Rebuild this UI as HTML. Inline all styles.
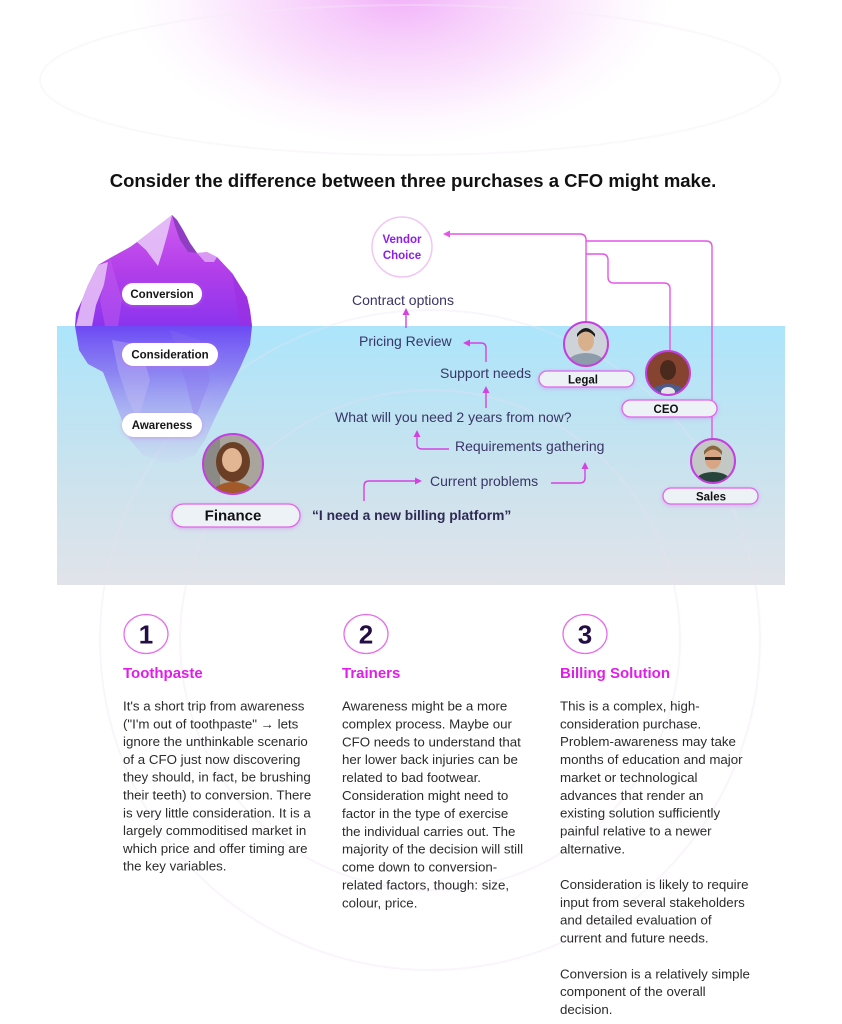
<!DOCTYPE html>
<html><head><meta charset="utf-8">
<style>
html,body{margin:0;padding:0;background:#fff;}
body{width:842px;height:1024px;position:relative;overflow:hidden;font-family:"Liberation Sans",sans-serif;}
#glow{position:absolute;left:0;top:0;width:842px;height:200px;background:radial-gradient(ellipse 270px 150px at 400px -5px,#f2b2fa 0%,#f7cffb 30%,#fbe6fd 60%,#fef7ff 82%,rgba(255,255,255,0) 100%);}
svg{position:absolute;left:0;top:0;}
</style></head>
<body>
<div id="glow"></div>
<svg width="842" height="1024" viewBox="0 0 842 1024" xmlns="http://www.w3.org/2000/svg">
<defs>
<linearGradient id="water" x1="0" y1="0" x2="0" y2="1">
<stop offset="0" stop-color="#ace5fb"/>
<stop offset="0.45" stop-color="#c4e3f0"/>
<stop offset="1" stop-color="#e1e3e9"/>
</linearGradient>
<linearGradient id="berg" x1="0" y1="0" x2="0" y2="1">
<stop offset="0" stop-color="#d15cf2"/>
<stop offset="0.5" stop-color="#b23fe9"/>
<stop offset="1" stop-color="#8b34ee"/>
</linearGradient>
<linearGradient id="refl" x1="0" y1="0" x2="0" y2="1">
<stop offset="0" stop-color="#6638f4" stop-opacity="0.9"/>
<stop offset="0.35" stop-color="#7a5cf0" stop-opacity="0.7"/>
<stop offset="0.75" stop-color="#a79ef0" stop-opacity="0.45"/>
<stop offset="1" stop-color="#c8c4f2" stop-opacity="0.15"/>
</linearGradient>
<filter id="sh" x="-30%" y="-60%" width="160%" height="220%">
<feDropShadow dx="0" dy="1" stdDeviation="2" flood-color="#d070e8" flood-opacity="0.45"/>
</filter>
<clipPath id="cF"><circle cx="233" cy="464" r="30"/></clipPath>
<clipPath id="cL"><circle cx="586" cy="344" r="22"/></clipPath>
<clipPath id="cC"><circle cx="668" cy="373" r="22"/></clipPath>
<clipPath id="cS"><circle cx="713" cy="461" r="22"/></clipPath>
</defs>

<!-- faint background rings -->
<g fill="none" stroke="#f3ebf6" stroke-width="2" opacity="0.35">
<ellipse cx="410" cy="80" rx="370" ry="75"/>
</g>

<!-- water -->
<rect x="57" y="326" width="728" height="259" fill="url(#water)"/>

<g fill="none" stroke="#ece0f2" stroke-width="2" opacity="0.3">
<circle cx="430" cy="640" r="330"/>
<circle cx="430" cy="640" r="250"/>
</g>

<!-- iceberg above water -->
<polygon points="172,215 177,220 183,230 190,243 197,253 207,252 217,257 232,273 247,297 250,310 252,326 75,326 76,313 82,300 88,285 98,265 110,258 130,247 137,242 150,232" fill="url(#berg)"/>
<polygon points="76,326 82,300 88,285 98,265 108,262 104,285 96,305 92,326" fill="#e9c6f7" opacity="0.85"/>
<polygon points="172,215 150,232 137,242 146,250 158,266 163,250 168,232" fill="#e6c4f6" opacity="0.9"/>
<polygon points="172,215 177,220 183,230 190,243 197,253 188,252 180,240 175,226" fill="#8f3ec4"/>
<polygon points="197,253 207,252 217,257 214,262 205,262" fill="#f0d2f8" opacity="0.6"/>
<polygon points="110,258 122,300 118,326 105,326 100,300" fill="#c25cf0" opacity="0.5"/>
<polygon points="232,273 247,297 250,310 252,326 240,326 236,300" fill="#9b2fe0" opacity="0.6"/>

<!-- iceberg reflection -->
<polygon points="75,326 252,326 250,345 240,368 228,392 215,418 205,440 195,455 178,462 160,462 143,455 130,440 121,418 112,395 103,372 88,364 79,350" fill="url(#refl)"/>
<polygon points="112,340 140,345 150,380 138,420 128,400 118,370" fill="#c8c0f4" opacity="0.35"/>
<polygon points="170,330 200,340 210,380 195,420 185,380" fill="#8870f0" opacity="0.3"/>

<!-- iceberg pills -->
<g filter="url(#sh)" fill="#fff">
<rect x="122" y="283" width="80" height="22" rx="11"/>
<rect x="122" y="343" width="96" height="23" rx="11.5"/>
<rect x="122" y="413" width="80" height="24" rx="12"/>
</g>
<g font-family="Liberation Sans, sans-serif" font-weight="bold" font-size="11.5" fill="#151515" text-anchor="middle">
<text x="162" y="298">Conversion</text>
<text x="170" y="358.5">Consideration</text>
<text x="162" y="429">Awareness</text>
</g>

<!-- connectors right -->
<g fill="none" stroke="#e455e8" stroke-width="1.4">
<path d="M586,322 V240 Q586,234 580,234 H448"/>
<path d="M586,241 H706 Q712,241 712,247 V439"/>
<path d="M586,254 H602 Q608,254 608,260 V277 Q608,283 614,283 H664 Q670,283 670,289 V351"/>
</g>
<polygon points="443,234 450,230.5 450,237.5" fill="#e455e8"/>

<!-- vendor choice -->
<circle cx="402" cy="247" r="30" fill="#fff" stroke="#f1c6f4" stroke-width="1.5"/>
<g font-family="Liberation Sans, sans-serif" font-weight="bold" font-size="11.5" fill="#8b1ee8" text-anchor="middle">
<text x="402" y="243">Vendor</text>
<text x="402" y="259">Choice</text>
</g>

<!-- flow labels -->
<g font-family="Liberation Sans, sans-serif" font-size="14" fill="#3a3566">
<text x="352" y="305">Contract options</text>
<text x="359" y="346">Pricing Review</text>
<text x="440" y="378">Support needs</text>
<text x="335" y="422">What will you need 2 years from now?</text>
<text x="455" y="451">Requirements gathering</text>
<text x="430" y="486">Current problems</text>
</g>
<text x="312" y="520" font-family="Liberation Sans, sans-serif" font-weight="bold" font-size="13.8" fill="#2e2a55">“I need a new billing platform”</text>

<!-- flow arrows -->
<g fill="none" stroke="#d443e2" stroke-width="1.4">
<path d="M406,328 V314"/>
<path d="M486,362 V348 Q486,343 481,343 H468"/>
<path d="M486,408 V392"/>
<path d="M449,449 H422 Q417,449 417,444 V436"/>
<path d="M551,483 H580 Q585,483 585,478 V468"/>
<path d="M364,501 V486 Q364,481 369,481 H416"/>
</g>
<g fill="#d443e2">
<polygon points="406,308 402.5,315 409.5,315"/>
<polygon points="463,343 470,339.5 470,346.5"/>
<polygon points="486,386 482.5,393 489.5,393"/>
<polygon points="417,430 413.5,437 420.5,437"/>
<polygon points="585,462 581.5,469 588.5,469"/>
<polygon points="422,481 415,477.5 415,484.5"/>
</g>

<!-- avatars -->
<g clip-path="url(#cF)">
<rect x="200" y="430" width="70" height="70" fill="#a9a49c"/>
<rect x="200" y="430" width="20" height="70" fill="#8c8a86"/>
<ellipse cx="233" cy="462" rx="17" ry="20" fill="#6b3f25"/>
<ellipse cx="232" cy="460" rx="10" ry="12" fill="#e2b593"/>
<ellipse cx="233" cy="496" rx="22" ry="14" fill="#a25a28"/>
</g>
<circle cx="233" cy="464" r="30" fill="none" stroke="#c43fe2" stroke-width="2"/>

<g clip-path="url(#cL)">
<rect x="560" y="320" width="52" height="50" fill="#cdd3d8"/>
<ellipse cx="586" cy="364" rx="19" ry="11" fill="#8c9cab"/>
<ellipse cx="586" cy="341" rx="8" ry="10" fill="#d9b08c"/>
<path d="M577,337 Q586,326 595,337 L595,334 Q586,322 577,334 Z" fill="#1b1b1b"/>
</g>
<circle cx="586" cy="344" r="22" fill="none" stroke="#c43fe2" stroke-width="2"/>

<g clip-path="url(#cC)">
<rect x="644" y="349" width="50" height="50" fill="#86432f"/>
<ellipse cx="668" cy="394" rx="18" ry="10" fill="#4d5a8c"/>
<ellipse cx="668" cy="392" rx="7" ry="5" fill="#e8e4e8"/>
<ellipse cx="668" cy="370" rx="8" ry="10" fill="#4a2a1c"/>
</g>
<circle cx="668" cy="373" r="22" fill="none" stroke="#c43fe2" stroke-width="2"/>

<g clip-path="url(#cS)">
<rect x="689" y="437" width="50" height="50" fill="#c3c8c4"/>
<ellipse cx="713" cy="482" rx="18" ry="10" fill="#27453a"/>
<ellipse cx="713" cy="459" rx="8" ry="10" fill="#d8a684"/>
<path d="M704,455 Q713,444 722,455 L722,451 Q713,440 704,451 Z" fill="#8a6640"/>
<rect x="705" y="457" width="16" height="3" fill="#2a2a2a"/>
</g>
<circle cx="713" cy="461" r="22" fill="none" stroke="#c43fe2" stroke-width="2"/>

<!-- role pills -->
<g filter="url(#sh)" fill="#edf2f7" stroke="#e266ea" stroke-width="1.3">
<rect x="172" y="504" width="128" height="23" rx="11.5"/>
<rect x="539" y="371" width="95" height="16" rx="8"/>
<rect x="622" y="400" width="95" height="17" rx="8.5"/>
<rect x="663" y="488" width="95" height="16" rx="8"/>
</g>
<g font-family="Liberation Sans, sans-serif" font-weight="bold" fill="#111" text-anchor="middle">
<text x="233" y="520.5" font-size="15">Finance</text>
<text x="583" y="383.5" font-size="11.5">Legal</text>
<text x="666" y="413" font-size="11.5">CEO</text>
<text x="711" y="500.5" font-size="11.5">Sales</text>
</g>

<!-- title -->
<text x="413" y="187" text-anchor="middle" font-family="Liberation Sans, sans-serif" font-weight="bold" font-size="18.5" fill="#111">Consider the difference between three purchases a CFO might make.</text>

<!-- number circles -->
<g fill="#fff" stroke="#e66cec" stroke-width="1.3">
<ellipse cx="146" cy="634" rx="22" ry="19.5"/>
<ellipse cx="366" cy="634" rx="22" ry="19.5"/>
<ellipse cx="585" cy="634" rx="22" ry="19.5"/>
</g>
<g font-family="Liberation Sans, sans-serif" font-weight="bold" font-size="26" fill="#240c45" text-anchor="middle">
<text x="146" y="643.5">1</text>
<text x="366" y="643.5">2</text>
<text x="585" y="643.5">3</text>
</g>

<!-- headings -->
<g font-family="Liberation Sans, sans-serif" font-weight="bold" font-size="15" fill="#e01ee8">
<text x="123" y="678">Toothpaste</text>
<text x="342" y="678">Trainers</text>
<text x="560" y="678">Billing Solution</text>
</g>

<!-- body text -->
<g font-family="Liberation Sans, sans-serif" font-size="13.3" fill="#2b2b2b">
<text x="123" y="710.5">It's a short trip from awareness</text>
<text x="123" y="728.3">("I'm out of toothpaste" → lets</text>
<text x="123" y="746.1">ignore the unthinkable scenario</text>
<text x="123" y="763.9">of a CFO just now discovering</text>
<text x="123" y="781.7">they should, in fact, be brushing</text>
<text x="123" y="799.5">their teeth) to conversion. There</text>
<text x="123" y="817.3">is very little consideration. It is a</text>
<text x="123" y="835.1">largely commoditised market in</text>
<text x="123" y="852.9">which price and offer timing are</text>
<text x="123" y="870.7">the key variables.</text>

<text x="342" y="710.5">Awareness might be a more</text>
<text x="342" y="728.4">complex process. Maybe our</text>
<text x="342" y="746.3">CFO needs to understand that</text>
<text x="342" y="764.2">her lower back injuries can be</text>
<text x="342" y="782.1">related to bad footwear.</text>
<text x="342" y="800">Consideration might need to</text>
<text x="342" y="817.9">factor in the type of exercise</text>
<text x="342" y="835.8">the individual carries out. The</text>
<text x="342" y="853.7">majority of the decision will still</text>
<text x="342" y="871.6">come down to conversion-</text>
<text x="342" y="889.5">related factors, though: size,</text>
<text x="342" y="907.4">colour, price.</text>

<text x="560" y="710.5">This is a complex, high-</text>
<text x="560" y="728.35">consideration purchase.</text>
<text x="560" y="746.2">Problem-awareness may take</text>
<text x="560" y="764.05">months of education and major</text>
<text x="560" y="781.9">market or technological</text>
<text x="560" y="799.75">advances that render an</text>
<text x="560" y="817.6">existing solution sufficiently</text>
<text x="560" y="835.45">painful relative to a newer</text>
<text x="560" y="853.3">alternative.</text>
<text x="560" y="889">Consideration is likely to require</text>
<text x="560" y="906.85">input from several stakeholders</text>
<text x="560" y="924.7">and detailed evaluation of</text>
<text x="560" y="942.55">current and future needs.</text>
<text x="560" y="978.25">Conversion is a relatively simple</text>
<text x="560" y="996.1">component of the overall</text>
<text x="560" y="1013.95">decision.</text>
</g>
</svg>
</body></html>
